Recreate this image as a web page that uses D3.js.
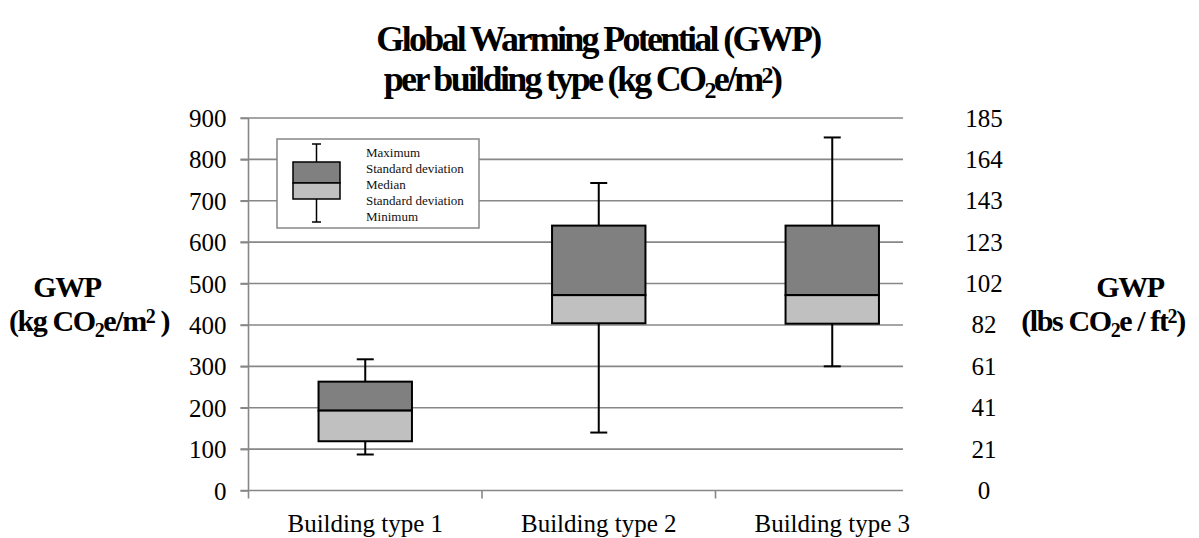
<!DOCTYPE html>
<html><head><meta charset="utf-8">
<script src="https://cdn.jsdelivr.net/npm/d3@7"></script>
<style>
html,body{margin:0;padding:0;background:#fff;}
svg{display:block;font-family:"Liberation Serif","Times New Roman",serif;}
</style></head>
<body>
<svg id="chart" width="1199" height="538"></svg>
<script>
const categories = ["Building type 1", "Building type 2", "Building type 3"];
const maxVals   = [317, 743, 853];
const sdHigh    = [263, 640, 640];
const medians   = [193, 472, 472];
const sdLow     = [119, 404, 403];
const minVals   = [87, 140, 300];
const leftTicks = [0, 100, 200, 300, 400, 500, 600, 700, 800, 900];
const rightTickLabels = ["0", "21", "41", "61", "82", "102", "123", "143", "164", "185"];
const legendLabels = ["Maximum", "Standard deviation", "Median", "Standard deviation", "Minimum"];

const svg = d3.select("#chart");
const plotLeft = 248.5, plotRight = 903, bandRight = 949;
const y = d3.scaleLinear().domain([0, 900]).range([490.5, 118]);
const x = d3.scaleBand().domain(categories).range([plotLeft, bandRight]);
const GRID = "#878787";

// gridlines
svg.append("g").selectAll("line").data(leftTicks.filter(d => d > 0)).join("line")
  .attr("x1", plotLeft - 8).attr("x2", plotRight)
  .attr("y1", d => y(d)).attr("y2", d => y(d))
  .attr("stroke", GRID).attr("stroke-width", 1.6);

// left axis
const yAxis = d3.axisLeft(y).tickValues(leftTicks).tickSize(8).tickPadding(14).tickFormat(d3.format("d"));
const gy = svg.append("g").attr("transform", `translate(${plotLeft},0)`).call(yAxis);
gy.select(".domain").attr("stroke", GRID).attr("stroke-width", 1.6).attr("d", `M0,${y(900)}V${y(0)+8}`);
gy.selectAll(".tick line").attr("stroke", GRID).attr("stroke-width", 1.6);
gy.selectAll(".tick text").attr("font-family", "Liberation Serif").attr("font-size", 25).attr("fill", "#000").attr("dy", "0.34em");

// bottom axis
const gx = svg.append("g").attr("transform", `translate(0,${y(0)})`);
gx.append("line").attr("x1", plotLeft - 8).attr("x2", plotRight).attr("y1", 0).attr("y2", 0)
  .attr("stroke", GRID).attr("stroke-width", 1.6);
gx.selectAll("line.tk").data(categories.slice(1)).join("line").attr("class", "tk")
  .attr("x1", d => x(d)).attr("x2", d => x(d)).attr("y1", 0).attr("y2", 8)
  .attr("stroke", GRID).attr("stroke-width", 1.6);
gx.selectAll("text").data(categories).join("text")
  .attr("x", d => x(d) + x.bandwidth() / 2).attr("y", 41)
  .attr("text-anchor", "middle").attr("font-size", 25).text(d => d);

// right axis labels
svg.append("g").selectAll("text").data(leftTicks).join("text")
  .attr("x", 984).attr("y", d => y(d)).attr("dy", "0.34em")
  .attr("text-anchor", "middle").attr("font-size", 25)
  .text((d, i) => rightTickLabels[i]);

// boxes
const bw = x.bandwidth() * 0.4;
const g = svg.append("g");
categories.forEach((c, i) => {
  const cx = x(c) + x.bandwidth() / 2;
  g.append("line").attr("x1", cx).attr("x2", cx).attr("y1", y(maxVals[i])).attr("y2", y(sdHigh[i])).attr("stroke", "#000").attr("stroke-width", 2);
  g.append("line").attr("x1", cx).attr("x2", cx).attr("y1", y(sdLow[i])).attr("y2", y(minVals[i])).attr("stroke", "#000").attr("stroke-width", 2);
  g.append("line").attr("x1", cx - 8.5).attr("x2", cx + 8.5).attr("y1", y(maxVals[i])).attr("y2", y(maxVals[i])).attr("stroke", "#000").attr("stroke-width", 2);
  g.append("line").attr("x1", cx - 8.5).attr("x2", cx + 8.5).attr("y1", y(minVals[i])).attr("y2", y(minVals[i])).attr("stroke", "#000").attr("stroke-width", 2);
  g.append("rect").attr("x", cx - bw / 2).attr("width", bw).attr("y", y(sdHigh[i])).attr("height", y(medians[i]) - y(sdHigh[i]))
    .attr("fill", "#808080").attr("stroke", "#000").attr("stroke-width", 2);
  g.append("rect").attr("x", cx - bw / 2).attr("width", bw).attr("y", y(medians[i])).attr("height", y(sdLow[i]) - y(medians[i]))
    .attr("fill", "#c0c0c0").attr("stroke", "#000").attr("stroke-width", 2);
});

// legend
const lg = svg.append("g");
lg.append("rect").attr("x", 277).attr("y", 139).attr("width", 202).attr("height", 89)
  .attr("fill", "#fff").attr("stroke", GRID).attr("stroke-width", 1.5);
const lcx = 316.5;
lg.append("line").attr("x1", lcx).attr("x2", lcx).attr("y1", 144).attr("y2", 222).attr("stroke", "#000").attr("stroke-width", 1.5);
lg.append("line").attr("x1", lcx - 4.5).attr("x2", lcx + 4.5).attr("y1", 144).attr("y2", 144).attr("stroke", "#000").attr("stroke-width", 1.5);
lg.append("line").attr("x1", lcx - 4.5).attr("x2", lcx + 4.5).attr("y1", 222).attr("y2", 222).attr("stroke", "#000").attr("stroke-width", 1.5);
lg.append("rect").attr("x", 293).attr("y", 162).attr("width", 47).attr("height", 21).attr("fill", "#808080").attr("stroke", "#000").attr("stroke-width", 1.5);
lg.append("rect").attr("x", 293).attr("y", 183).attr("width", 47).attr("height", 16).attr("fill", "#c0c0c0").attr("stroke", "#000").attr("stroke-width", 1.5);
lg.selectAll("text").data(legendLabels).join("text")
  .attr("x", 366).attr("y", (d, i) => 152 + i * 16.2).attr("dy", "0.35em")
  .attr("font-size", 13).attr("fill", "#111").text(d => d);

// title
svg.append("text").attr("x", 598).attr("y", 51).attr("text-anchor", "middle")
  .attr("font-weight", "bold").attr("font-size", 36).attr("letter-spacing", -2.7)
  .text("Global Warming Potential (GWP)");
const t2 = svg.append("text").attr("x", 582).attr("y", 91).attr("text-anchor", "middle")
  .attr("font-weight", "bold").attr("font-size", 36).attr("letter-spacing", -2.7);
t2.append("tspan").text("per building type (kg CO");
t2.append("tspan").attr("font-size", 24).attr("dy", 7).text("2");
t2.append("tspan").attr("dy", -7).text("e/m");
t2.append("tspan").attr("font-size", 24).attr("dy", -8).text("2");
t2.append("tspan").attr("dy", 8).text(")");

// left axis title
svg.append("text").attr("x", 67).attr("y", 297).attr("text-anchor", "middle")
  .attr("font-weight", "bold").attr("font-size", 30).attr("letter-spacing", -1.4).text("GWP");
const la = svg.append("text").attr("x", 89).attr("y", 331).attr("text-anchor", "middle")
  .attr("font-weight", "bold").attr("font-size", 30).attr("letter-spacing", -1.4);
la.append("tspan").text("(kg CO");
la.append("tspan").attr("font-size", 20).attr("dy", 6).text("2");
la.append("tspan").attr("dy", -6).text("e/m");
la.append("tspan").attr("font-size", 20).attr("dy", -8).text("2");
la.append("tspan").attr("dy", 8).text(" )");

// right axis title
svg.append("text").attr("x", 1130).attr("y", 297).attr("text-anchor", "middle")
  .attr("font-weight", "bold").attr("font-size", 30).attr("letter-spacing", -1.4).text("GWP");
const ra = svg.append("text").attr("x", 1103).attr("y", 331).attr("text-anchor", "middle")
  .attr("font-weight", "bold").attr("font-size", 30).attr("letter-spacing", -1.4);
ra.append("tspan").text("(lbs CO");
ra.append("tspan").attr("font-size", 20).attr("dy", 6).text("2");
ra.append("tspan").attr("dy", -6).text("e / ft");
ra.append("tspan").attr("font-size", 20).attr("dy", -8).text("2");
ra.append("tspan").attr("dy", 8).text(")");
</script>
</body></html>
